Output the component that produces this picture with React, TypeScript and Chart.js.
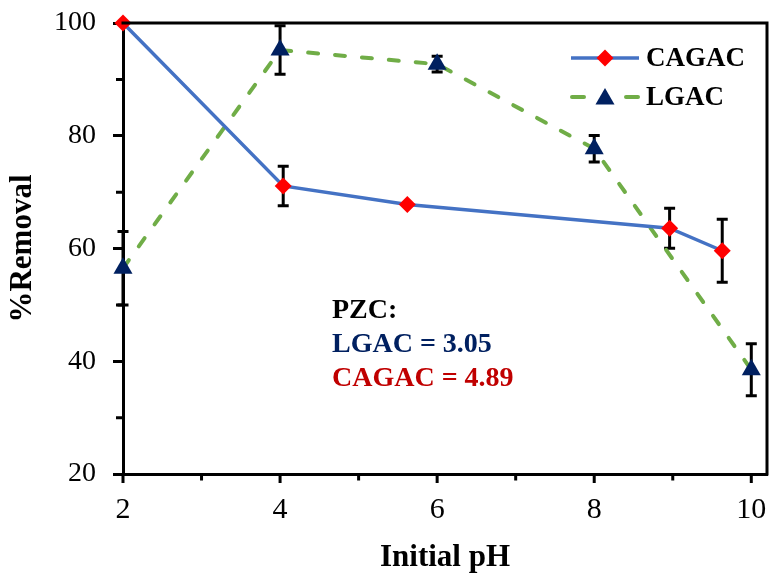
import React, { useEffect, useRef } from 'react';
import { Chart, registerables } from 'chart.js';

Chart.register(...registerables);

// pH vs %removal, with standard deviations
const phCagac = [2, 4.04, 5.62, 8.96, 9.63];
const removalCagac = [100, 71.1, 67.8, 63.6, 59.6];
const errCagac = [0, 3.5, 0, 3.55, 5.6];

const phLgac = [2, 4, 6, 8, 10];
const removalLgac = [56.5, 95.2, 92.7, 77.7, 38.5];
const errLgac = [6.5, 4.3, 1.4, 2.35, 4.6];

const seriesNames = ['CAGAC', 'LGAC'];

const xMajorTicks = [2, 4, 6, 8, 10];
const xMinorTicks = [3, 5, 7, 9];
const yMajorTicks = [20, 40, 60, 80, 100];
const yMinorTicks = [30, 50, 70, 90];

const pzcLines = ['PZC:', 'LGAC = 3.05', 'CAGAC = 4.89'];
const pzcColors = ['#000000', '#002060', '#C00000'];

const SERIF = "'Liberation Serif', 'Times New Roman', serif";

// target plot frame inside the 778x575 canvas
const AREA = { left: 123, top: 23, right: 776, bottom: 474 };

const errorData = [errCagac, errLgac];

function drawMarker(ctx: CanvasRenderingContext2D, style: string, x: number, y: number, r: number) {
  ctx.beginPath();
  if (style === 'triangle') {
    for (let k = 0; k < 3; k++) {
      const a = (k * 2 * Math.PI) / 3;
      const px = x + Math.sin(a) * r;
      const py = y - Math.cos(a) * r;
      if (k === 0) ctx.moveTo(px, py);
      else ctx.lineTo(px, py);
    }
  } else {
    ctx.moveTo(x - r, y);
    ctx.lineTo(x, y - r);
    ctx.lineTo(x + r, y);
    ctx.lineTo(x, y + r);
  }
  ctx.closePath();
  ctx.fill();
}

const decorPlugin = {
  id: 'decor',
  beforeDatasetsDraw(chart: any) {
    const ctx = chart.ctx;
    const xs = chart.scales.x;
    const ys = chart.scales.y;
    ctx.save();
    ctx.strokeStyle = '#000';
    ctx.lineWidth = 3;
    chart.data.datasets.forEach((ds: any, di: number) => {
      ds.data.forEach((p: any, i: number) => {
        const e = errorData[di][i];
        if (!e) return;
        const px = xs.getPixelForValue(p.x);
        const y1 = ys.getPixelForValue(p.y + e);
        const y2 = ys.getPixelForValue(p.y - e);
        ctx.beginPath();
        ctx.moveTo(px, y1);
        ctx.lineTo(px, y2);
        ctx.moveTo(px - 5.5, y1);
        ctx.lineTo(px + 5.5, y1);
        ctx.moveTo(px - 5.5, y2);
        ctx.lineTo(px + 5.5, y2);
        ctx.stroke();
      });
    });
    ctx.restore();
  },
  afterDraw(chart: any) {
    const ctx = chart.ctx;
    const { left, right, top, bottom } = chart.chartArea;
    const xs = chart.scales.x;
    const ys = chart.scales.y;
    ctx.save();
    // frame top and right
    ctx.strokeStyle = '#000';
    ctx.lineWidth = 3;
    ctx.beginPath();
    ctx.moveTo(left - 1.5, top);
    ctx.lineTo(right, top);
    ctx.lineTo(right, bottom + 1.5);
    ctx.stroke();
    // x ticks (major longer than minor) and y minor ticks
    ctx.beginPath();
    xMajorTicks.forEach((v) => {
      const px = xs.getPixelForValue(v);
      ctx.moveTo(px, bottom);
      ctx.lineTo(px, bottom + 9);
    });
    xMinorTicks.forEach((v) => {
      const px = xs.getPixelForValue(v);
      ctx.moveTo(px, bottom);
      ctx.lineTo(px, bottom + 6.5);
    });
    yMinorTicks.forEach((v) => {
      const py = ys.getPixelForValue(v);
      ctx.moveTo(left, py);
      ctx.lineTo(left - 7, py);
    });
    ctx.stroke();

    // legend
    const rows = [58, 97];
    chart.data.datasets.forEach((ds: any, i: number) => {
      const y = rows[i];
      ctx.strokeStyle = ds.borderColor;
      ctx.lineWidth = ds.borderWidth;
      ctx.lineCap = ds.borderCapStyle || 'butt';
      ctx.beginPath();
      if (ds.borderDash && ds.borderDash.length) {
        ctx.moveTo(572, y);
        ctx.lineTo(584, y);
        ctx.moveTo(626, y);
        ctx.lineTo(638, y);
      } else {
        ctx.moveTo(571, y);
        ctx.lineTo(639, y);
      }
      ctx.stroke();
      ctx.lineCap = 'butt';
      ctx.fillStyle = ds.pointBackgroundColor;
      const cy = ds.pointStyle === 'triangle' ? y + 2 : y;
      drawMarker(ctx, ds.pointStyle, 605, cy, ds.pointRadius);
      ctx.fillStyle = '#000';
      ctx.font = `bold 27px ${SERIF}`;
      ctx.textAlign = 'left';
      ctx.textBaseline = 'middle';
      ctx.fillText(seriesNames[i], 646, y + 1);
    });

    // point of zero charge note
    ctx.font = `bold 28px ${SERIF}`;
    ctx.textAlign = 'left';
    ctx.textBaseline = 'alphabetic';
    const baselines = [318, 352, 386];
    pzcLines.forEach((t, i) => {
      ctx.fillStyle = pzcColors[i];
      ctx.fillText(t, 332, baselines[i]);
    });
    ctx.restore();
  },
};

function noOverhang(s: any) {
  s.paddingTop = 0;
  s.paddingBottom = 0;
  s.paddingLeft = 0;
  s.paddingRight = 0;
}

export default function App() {
  const canvasRef = useRef<HTMLCanvasElement | null>(null);

  useEffect(() => {
    document.body.style.margin = '0';
    const canvas = canvasRef.current;
    if (!canvas) return;
    const layoutPadding = { top: AREA.top, right: 778 - AREA.right, left: 0, bottom: 0 };
    const chart = new Chart(canvas, {
      type: 'line',
      data: {
        datasets: [
          {
            label: seriesNames[0],
            data: phCagac.map((x, i) => ({ x, y: removalCagac[i] })),
            borderColor: '#4472C4',
            borderWidth: 3.5,
            pointStyle: 'rectRot',
            pointRadius: 8.5,
            pointBackgroundColor: '#FF0000',
            pointBorderColor: '#FF0000',
            pointBorderWidth: 0,
            tension: 0,
            clip: false,
          } as any,
          {
            label: seriesNames[1],
            data: phLgac.map((x, i) => ({ x, y: removalLgac[i] })),
            borderColor: '#70AD47',
            borderWidth: 4,
            borderDash: [10, 17],
            borderCapStyle: 'round',
            pointStyle: 'triangle',
            pointRadius: 11,
            pointBackgroundColor: '#002060',
            pointBorderColor: '#002060',
            pointBorderWidth: 0,
            tension: 0,
            clip: false,
          } as any,
        ],
      },
      options: {
        responsive: false,
        animation: false,
        layout: { padding: layoutPadding },
        plugins: {
          legend: { display: false },
          tooltip: { enabled: false },
        },
        scales: {
          x: {
            type: 'linear',
            min: 2,
            max: 10.2,
            afterBuildTicks: (s: any) => {
              s.ticks = xMajorTicks.map((v) => ({ value: v }));
            },
            afterFit: (s: any) => {
              s.height = 575 - AREA.bottom;
              noOverhang(s);
            },
            grid: {
              display: true,
              drawOnChartArea: false,
              drawTicks: true,
              tickLength: 18,
              tickWidth: 0,
              tickColor: 'rgba(0,0,0,0)',
              color: 'rgba(0,0,0,0)',
            },
            border: { display: true, color: '#000', width: 3 },
            ticks: {
              font: { family: SERIF, size: 30 },
              color: '#000',
              padding: 0,
              maxRotation: 0,
              autoSkip: false,
            },
            title: {
              display: true,
              text: 'Initial pH',
              color: '#000',
              font: { family: SERIF, size: 31, weight: 'bold', lineHeight: 1.1 },
              padding: { top: 0, bottom: 0 },
            },
          },
          y: {
            type: 'linear',
            min: 20,
            max: 100,
            afterBuildTicks: (s: any) => {
              s.ticks = yMajorTicks.map((v) => ({ value: v }));
            },
            afterFit: (s: any) => {
              s.width = AREA.left;
              noOverhang(s);
            },
            grid: {
              display: true,
              drawOnChartArea: false,
              drawTicks: true,
              tickLength: 10,
              tickWidth: 3,
              tickColor: '#000',
              color: '#000',
            },
            border: { display: true, color: '#000', width: 3 },
            ticks: {
              font: { family: SERIF, size: 28 },
              color: '#000',
              padding: 17,
            },
            title: {
              display: true,
              text: '%Removal',
              color: '#000',
              font: { family: SERIF, size: 31, weight: 'bold' },
              padding: { top: 4, bottom: 0 },
            },
          },
        },
      } as any,
      plugins: [decorPlugin],
    });

    // pin the plot frame: correct layout padding for any space the layout reserved
    for (let k = 0; k < 4; k++) {
      const a = chart.chartArea;
      const dr = a.right - AREA.right;
      const dt = a.top - AREA.top;
      if (Math.abs(dr) < 0.5 && Math.abs(dt) < 0.5) break;
      layoutPadding.right += dr;
      layoutPadding.top -= dt;
      chart.update();
    }

    return () => chart.destroy();
  }, []);

  return (
    <div style={{ width: 778, height: 575 }}>
      <canvas ref={canvasRef} width={778} height={575} />
    </div>
  );
}
